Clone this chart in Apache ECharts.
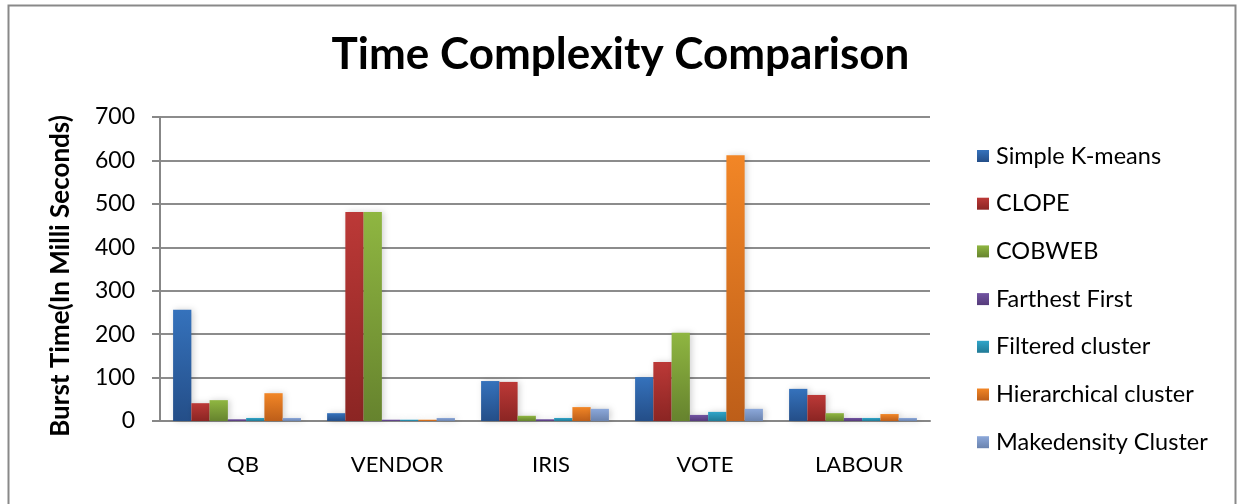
<!DOCTYPE html>
<html><head><meta charset="utf-8">
<script src="https://cdn.jsdelivr.net/npm/echarts@6/dist/echarts.min.js"></script>
<style>html,body{margin:0;padding:0;background:#fff}#c{width:1241px;height:504px}</style>
</head><body><div id="c"></div>
<script>
const categories = ['QB','VENDOR','IRIS','VOTE','LABOUR'];
const seriesNames = ['Simple K-means','CLOPE','COBWEB','Farthest First','Filtered cluster','Hierarchical cluster','Makedensity Cluster'];
const simpleKMeans = [256, 18, 92, 101, 74];
const clope = [41, 481, 90, 136, 60];
const cobweb = [48, 481, 12, 203, 18];
const farthestFirst = [4, 3, 4, 14, 7];
const filteredCluster = [7, 3, 7, 21, 7];
const hierarchicalCluster = [64, 3, 32, 612, 16];
const makedensityCluster = [7, 7, 28, 28, 7];
const yTicks = [0, 100, 200, 300, 400, 500, 600, 700];

const values = [simpleKMeans, clope, cobweb, farthestFirst, filteredCluster, hierarchicalCluster, makedensityCluster];
const grads = [
  ['#3572BC','#244E88'],
  ['#BC3937','#8B2523'],
  ['#8FB641','#66832E'],
  ['#7254A2','#553B7A'],
  ['#30A5C9','#217A96'],
  ['#F28626','#BD5E19'],
  ['#8CA8DA','#6A83AE']
];
const font = 'Lato, "Open Sans", sans-serif';
const chart = echarts.init(document.getElementById('c'));
chart.setOption({
  animation: false,
  backgroundColor: '#fff',
  graphic: [{type:'rect', shape:{x:8.5,y:5.5,width:1227,height:520}, style:{fill:'none', stroke:'#898989', lineWidth:2}, silent:true, z:-1}],
  title: {text:'Time Complexity Comparison', left:'center', top:33, padding:0,
    textStyle:{fontFamily:font, fontWeight:'bold', fontSize:44, color:'#000'}},
  legend: {orient:'vertical', left:972, top:139, itemWidth:12, itemHeight:12, itemGap:23.7,
    icon:'rect', data: seriesNames,
    textStyle:{fontFamily:font, fontSize:23.5, color:'#000', lineHeight:24, padding:[0,0,0,2]}},
  grid: {left:160, right:311, top:117, bottom:83},
  xAxis: {type:'category', data:categories,
    axisLine:{lineStyle:{color:'#878787', width:2}},
    axisTick:{show:false},
    axisLabel:{fontFamily:font, fontSize:22, color:'#000', margin:33, padding:[0,0,0,12]}},
  yAxis: {type:'value', min:yTicks[0], max:yTicks[yTicks.length-1], interval:100,
    name:'Burst Time(In Milli Seconds)', nameLocation:'middle', nameGap:86, nameRotate:90,
    nameTextStyle:{fontFamily:font, fontWeight:'bold', fontSize:26, color:'#000', padding:[0,14,0,0]},
    axisLine:{show:true, lineStyle:{color:'#878787', width:2}},
    axisTick:{show:true, length:8, lineStyle:{color:'#878787', width:2}},
    axisLabel:{fontFamily:font, fontSize:23, color:'#000', margin:25},
    splitLine:{lineStyle:{color:'#8c8c8c', width:2}}},
  series: seriesNames.map((n,i)=>({
    name:n, type:'bar', data: values[i], barGap:'0%', barCategoryGap:'17%',
    itemStyle:{color:new echarts.graphic.LinearGradient(0,0,0,1,[{offset:0,color:grads[i][0]},{offset:1,color:grads[i][1]}]),
      shadowBlur:6, shadowColor:'rgba(0,0,0,0.18)', shadowOffsetX:2}
  }))
});
</script></body></html>
